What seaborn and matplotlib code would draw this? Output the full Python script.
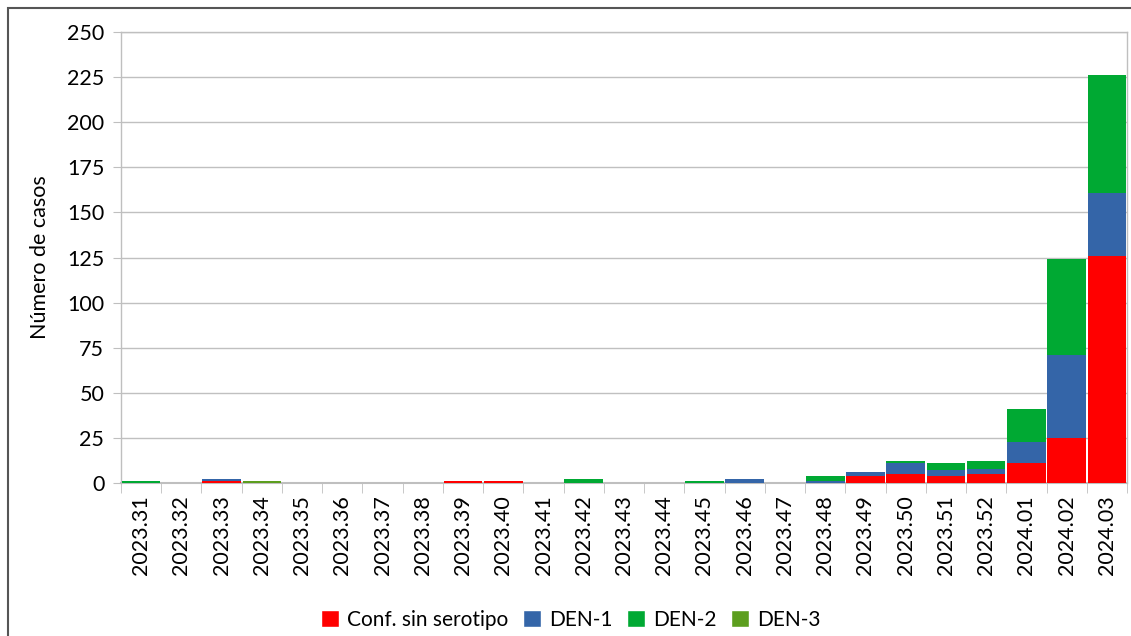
import numpy as np
import pandas as pd
import seaborn as sns
import matplotlib.pyplot as plt
from matplotlib.patches import Rectangle, Patch

# datos por semana epidemiológica
semanas = ["2023.31", "2023.32", "2023.33", "2023.34", "2023.35", "2023.36",
           "2023.37", "2023.38", "2023.39", "2023.40", "2023.41", "2023.42",
           "2023.43", "2023.44", "2023.45", "2023.46", "2023.47", "2023.48",
           "2023.49", "2023.50", "2023.51", "2023.52", "2024.01", "2024.02",
           "2024.03"]

sin_serotipo = [0, 0, 1, 0, 0, 0, 0, 0, 1, 1, 0, 0, 0, 0, 0, 0, 0, 0, 4, 5, 4, 5, 11, 25, 126]
den1 = [0, 0, 1, 0, 0, 0, 0, 0, 0, 0, 0, 0, 0, 0, 0, 2, 0, 1, 2, 6, 3, 3, 12, 46, 35]
den2 = [1, 0, 0, 0, 0, 0, 0, 0, 0, 0, 0, 2, 0, 0, 1, 0, 0, 3, 0, 1, 4, 4, 18, 53, 65]
den3 = [0, 0, 0, 1, 0, 0, 0, 0, 0, 0, 0, 0, 0, 0, 0, 0, 0, 0, 0, 0, 0, 0, 0, 0, 0]

series = ["Conf. sin serotipo", "DEN-1", "DEN-2", "DEN-3"]
colores = ["#FF0000", "#3465A8", "#00A933", "#5C9E1E"]

df = pd.DataFrame({"semana": semanas, "Conf. sin serotipo": sin_serotipo,
                   "DEN-1": den1, "DEN-2": den2, "DEN-3": den3})

sns.set_style("white")
plt.rcParams["font.family"] = ["Lato", "DejaVu Sans"]
plt.rcParams["text.color"] = "black"
plt.rcParams["axes.labelcolor"] = "black"
plt.rcParams["xtick.labelcolor"] = "black"
plt.rcParams["ytick.labelcolor"] = "black"

fig = plt.figure(figsize=(11.31, 6.36), dpi=100)
ax = fig.add_axes([121 / 1131, 1 - 483 / 636, (1127 - 121) / 1131, (483 - 32) / 636])

# apilado: se dibujan las sumas acumuladas de arriba hacia abajo
acum = df[series].cumsum(axis=1)
for s, c in reversed(list(zip(series, colores))):
    sns.barplot(x=df["semana"], y=acum[s], color=c, width=0.96,
                saturation=1, ax=ax, zorder=3, linewidth=0)

ax.set_ylim(0, 250)
ax.set_yticks(np.arange(0, 251, 25))
ax.set_xlim(-0.5, len(semanas) - 0.5)
ax.set_xlabel("")
ax.set_ylabel("Número de casos", fontsize=15.5, labelpad=12)
ax.grid(axis="y", color="#C0C0C0", linewidth=1, zorder=0)
for sp in ax.spines.values():
    sp.set_color("#BFBFBF")
    sp.set_linewidth(1)
ax.spines["bottom"].set_linewidth(1.5)

ax.tick_params(axis="y", labelsize=15.5, length=6, color="#BFBFBF", left=True, pad=6)
ax.tick_params(axis="x", which="major", labelsize=15.5, length=0, rotation=90, pad=9)
ax.set_xticks(np.arange(-0.5, len(semanas), 1), minor=True)
ax.tick_params(axis="x", which="minor", length=7, color="#BFBFBF", bottom=True)

handles = [Patch(facecolor=c, label=s) for s, c in zip(series, colores)]
fig.legend(handles=handles, loc="center", bbox_to_anchor=(0.505, 1 - 620 / 636),
           ncol=4, frameon=False, fontsize=15, handlelength=0.85, handleheight=0.85,
           handletextpad=0.4, columnspacing=0.7)

fig.patches.append(Rectangle((8 / 1131, -0.1), 2, 1.1 - 8 / 636, transform=fig.transFigure,
                             fill=False, edgecolor="#555555", linewidth=1.5))

fig.savefig("out.png", dpi=100)
